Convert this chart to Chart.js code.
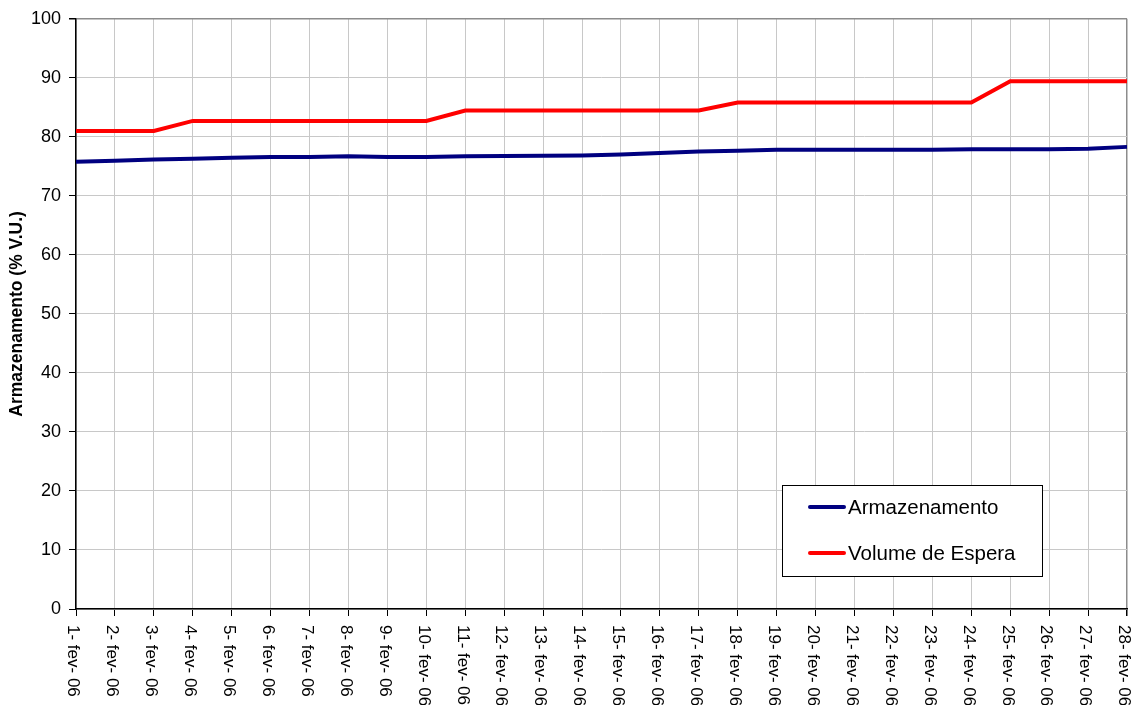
<!DOCTYPE html>
<html>
<head>
<meta charset="utf-8">
<script src="https://cdn.jsdelivr.net/npm/chart.js@4.4.0/dist/chart.umd.min.js"></script>
<style>
    html, body { margin: 0; padding: 0; background: #fff; }
    #wrap { width: 1144px; height: 705px; }
</style>
</head>
<body>
<div id="wrap"><canvas id="lineChart" width="1144" height="705"></canvas></div>
<script>
// dados do gráfico
const dias = ['1- fev- 06', '2- fev- 06', '3- fev- 06', '4- fev- 06', '5- fev- 06', '6- fev- 06', '7- fev- 06',
    '8- fev- 06', '9- fev- 06', '10- fev- 06', '11- fev- 06', '12- fev- 06', '13- fev- 06', '14- fev- 06',
    '15- fev- 06', '16- fev- 06', '17- fev- 06', '18- fev- 06', '19- fev- 06', '20- fev- 06', '21- fev- 06',
    '22- fev- 06', '23- fev- 06', '24- fev- 06', '25- fev- 06', '26- fev- 06', '27- fev- 06', '28- fev- 06'];

const armazenamento = [75.8, 75.95, 76.15, 76.3, 76.45, 76.6, 76.6, 76.7, 76.6, 76.6, 76.7, 76.75, 76.8, 76.85,
    77.0, 77.25, 77.5, 77.65, 77.8, 77.8, 77.8, 77.8, 77.8, 77.9, 77.9, 77.9, 78.0, 78.3];

const volumeEspera = [81.0, 81.0, 81.0, 82.7, 82.7, 82.7, 82.7, 82.7, 82.7, 82.7, 84.45, 84.45, 84.45, 84.45,
    84.45, 84.45, 84.45, 85.8, 85.8, 85.8, 85.8, 85.8, 85.8, 85.8, 89.4, 89.4, 89.4, 89.4];

const yTicks = [0, 10, 20, 30, 40, 50, 60, 70, 80, 90, 100];

const fonte = '"Liberation Sans", Arial, sans-serif';

// rótulos do eixo x girados no sentido horário
const rotulosX = {
    id: 'rotulosX',
    afterDraw(chart) {
        const ctx = chart.ctx;
        const x = chart.scales.x;
        ctx.save();
        ctx.fillStyle = '#000';
        ctx.font = '17px ' + fonte;
        ctx.textAlign = 'left';
        ctx.textBaseline = 'middle';
        chart.data.labels.forEach((lab, i) => {
            ctx.save();
            ctx.translate(x.getPixelForTick(i) - 3, x.top + 16);
            ctx.rotate(Math.PI / 2);
            ctx.fillText(lab, 0, 0);
            ctx.restore();
        });
        ctx.restore();
    }
};

// legenda com moldura dentro da área do gráfico
const legendaCaixa = {
    id: 'legendaCaixa',
    afterDraw(chart) {
        const ctx = chart.ctx;
        ctx.save();
        ctx.fillStyle = '#fff';
        ctx.fillRect(782, 485, 261, 92);
        ctx.strokeStyle = '#000';
        ctx.lineWidth = 1;
        ctx.strokeRect(782.5, 485.5, 260, 91);
        ctx.font = '20.5px ' + fonte;
        ctx.textBaseline = 'middle';
        ctx.textAlign = 'left';
        chart.data.datasets.forEach((ds, i) => {
            const y = 507 + i * 46;
            ctx.strokeStyle = ds.borderColor;
            ctx.lineWidth = 4;
            ctx.lineCap = 'round';
            ctx.beginPath();
            ctx.moveTo(810, y);
            ctx.lineTo(844, y);
            ctx.stroke();
            ctx.fillStyle = '#000';
            ctx.fillText(ds.label, 848, y + 1);
        });
        ctx.restore();
    }
};

new Chart(document.getElementById('lineChart').getContext('2d'), {
    type: 'line',
    data: {
        labels: dias,
        datasets: [{
            label: 'Armazenamento',
            data: armazenamento,
            borderColor: '#000080',
            borderWidth: 4,
            pointRadius: 0,
            tension: 0,
            fill: false
        }, {
            label: 'Volume de Espera',
            data: volumeEspera,
            borderColor: '#ff0000',
            borderWidth: 4,
            pointRadius: 0,
            tension: 0,
            fill: false
        }]
    },
    options: {
        responsive: false,
        animation: false,
        layout: { padding: { top: 17, right: 17, left: 0, bottom: 0 } },
        plugins: {
            legend: { display: false },
            tooltip: { enabled: false }
        },
        scales: {
            x: {
                type: 'category',
                offset: false,
                grid: {
                    color: ctx => ctx.index === dias.length - 1 ? '#8c8c8c' : '#c8c8c8',
                    tickColor: '#000',
                    tickLength: 7,
                    lineWidth: ctx => ctx.index === dias.length - 1 ? 1.5 : 1
                },
                border: { color: '#000', width: 1.5 },
                ticks: { display: false },
                afterFit(scale) { scale.height = 96; }
            },
            y: {
                min: 0,
                max: 100,
                afterBuildTicks(scale) { scale.ticks = yTicks.map(v => ({ value: v })); },
                grid: {
                    color: ctx => ctx.tick && ctx.tick.value === 100 ? '#8c8c8c' : '#c8c8c8',
                    tickColor: '#000',
                    tickLength: 7,
                    lineWidth: ctx => ctx.tick && ctx.tick.value === 100 ? 1.5 : 1
                },
                border: { color: '#000', width: 1.5 },
                ticks: {
                    color: '#000',
                    padding: 8,
                    font: { family: fonte, size: 18 }
                },
                title: {
                    display: true,
                    text: 'Armazenamento (% V.U.)',
                    color: '#000',
                    font: { family: fonte, size: 17.5, weight: 'bold' },
                    padding: { top: 7, bottom: 0 }
                },
                afterFit(scale) { scale.width = 76; }
            }
        }
    },
    plugins: [rotulosX, legendaCaixa]
});
</script>
</body>
</html>
